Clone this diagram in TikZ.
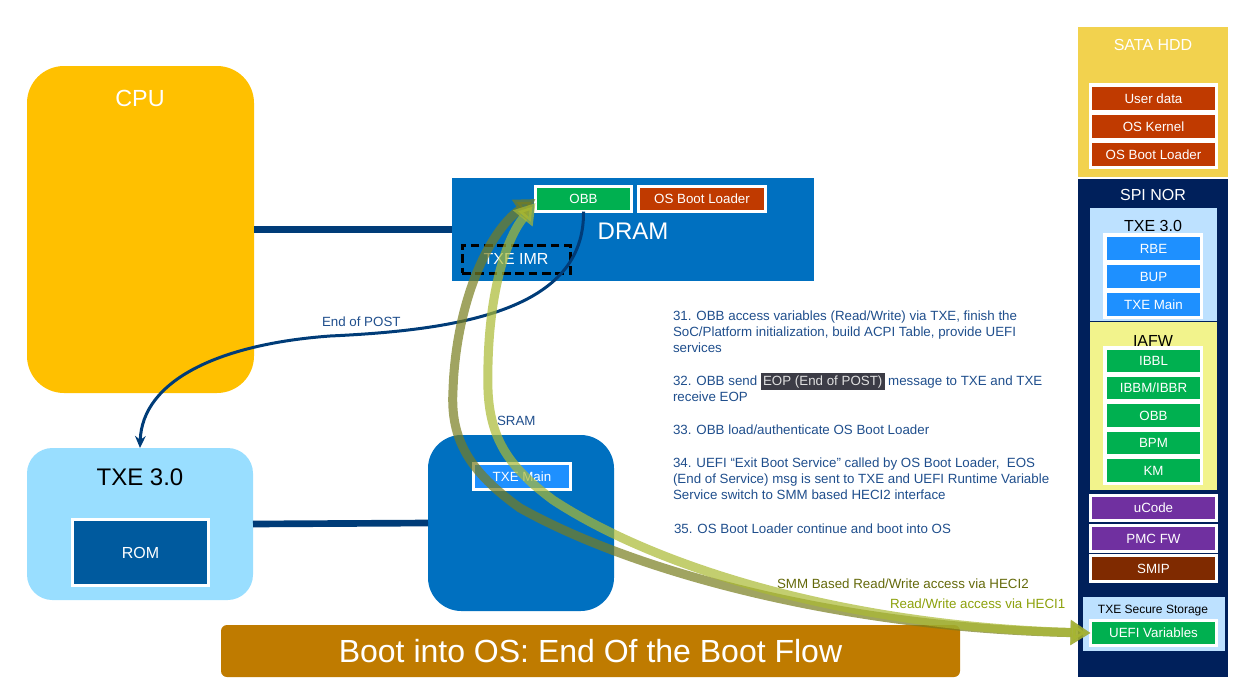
\documentclass[tikz,border=0pt]{standalone}
\usepackage{fontspec}
\setmainfont{Liberation Sans}
\usetikzlibrary{arrows.meta,fit}
\definecolor{cpuY}{HTML}{FFC000}
\definecolor{txeL}{HTML}{99DEFF}
\definecolor{blueM}{HTML}{0070C0}
\definecolor{romB}{HTML}{005A9E}
\definecolor{lineB}{HTML}{003C78}
\definecolor{txtB}{HTML}{1F4E8C}
\definecolor{grn}{HTML}{00B050}
\definecolor{org}{HTML}{C03A00}
\definecolor{brightB}{HTML}{1E90FF}
\definecolor{sata}{HTML}{F2D24E}
\definecolor{navy}{HTML}{00205B}
\definecolor{paleB}{HTML}{BDE1FF}
\definecolor{paleY}{HTML}{F2F38C}
\definecolor{purp}{HTML}{7030A0}
\definecolor{brn}{HTML}{7F2A00}
\definecolor{bootO}{HTML}{BF7B00}
\definecolor{oliveD}{RGB}{120,125,30}
\definecolor{oliveL}{RGB}{170,185,50}
\definecolor{smmT}{RGB}{100,105,10}
\definecolor{heciT}{RGB}{140,160,10}
\definecolor{hl}{HTML}{3C3C46}
\newcommand\fsz[1]{\fontsize{#1}{#1}\selectfont}
\begin{document}
\begin{tikzpicture}[x=0.75pt,y=-0.75pt,
  every node/.style={inner sep=0pt, outer sep=0pt},
  rbox/.style={inner sep=0pt, outer sep=0pt, text=white, font=\fsz{10}},
  wb/.style={draw=white, line width=2.25pt},
  bus/.style={draw=lineB, line width=5pt},
  lbl/.style={text=white},
  steptxt/.style={anchor=base west, text=txtB, font=\fsz{10}},
  garrD/.style={draw=oliveD, line width=6.75pt, opacity=0.7,
    {Triangle[length=15pt,width=18pt]}-{Triangle[length=15pt,width=18pt]}},
  garrL/.style={draw=oliveL, line width=6.75pt, opacity=0.7,
    {Triangle[length=15pt,width=18pt]}-{Triangle[length=15pt,width=18pt]}},
  eopline/.style={draw=lineB, line width=2.25pt, -{Stealth[length=9pt,width=8pt]}}
]
\useasboundingbox (0,0) rectangle (1235,697);

% ---------- left side ----------
\node[fit={(27,66)(254,393)}, fill=cpuY, rounded corners=27.75pt] (cpu) {};
\node[lbl, font=\fsz{17.5}] (cpul) at (140,98) {CPU};

\node[fit={(27,448)(253,600)}, fill=txeL, rounded corners=19pt] (txe) {};
\node[font=\fsz{18}] (txel) at (140,477) {TXE 3.0};
\node[fit={(72.5,519.5)(208.5,585.5)}, fill=romB, wb, label={[rbox,font=\fsz{12}]center:ROM}] (rom) {};

\node[fit={(452,178)(814,281)}, fill=blueM] (dram) {};
\node[lbl, font=\fsz{18}] (draml) at (633,231) {DRAM};
\node[fit={(535.5,186.5)(631.5,211.5)}, fill=grn, wb, label={[rbox]center:OBB}] (obb) {};
\node[fit={(638.5,186.5)(765.5,211.5)}, fill=org, wb, label={[rbox]center:OS Boot Loader}] (osbl) {};
\node[fit={(462,245)(570,273)}, draw=black, line width=2.25pt, dash pattern=on 6.5pt off 3.5pt,
  label={[rbox,font=\fsz{12}]center:TXE IMR}] (imr) {};

\node[fit={(428,435)(614,611)}, fill=blueM, rounded corners=25pt] (sram) {};
\node[anchor=base west, text=txtB, font=\fsz{10}] (sraml) at (497,425) {SRAM};
\node[fit={(473.5,463.5)(570.5,489.5)}, fill=brightB, wb, label={[rbox]center:TXE Main}] (txemain) {};

% buses
\draw[bus] (cpu.east) -- (dram.west);
\draw[bus] (txe.east) -- (sram.west);

% ---------- right column ----------
\node[fit={(1078,27)(1228,177)}, fill=sata] (sata) {};
\node[lbl, font=\fsz{12}] at (1153,45) {SATA HDD};
\node[fit={(1089,83)(1218,169)}, fill=white] (satap) {};
\node[fit={(1092,87)(1215,110)}, fill=org, label={[rbox]center:User data}] (udata) {};
\node[fit={(1092,115)(1215,138)}, fill=org, label={[rbox]center:OS Kernel}] (oskern) {};
\node[fit={(1092,143)(1215,166)}, fill=org, label={[rbox]center:OS Boot Loader}] (osbl2) {};

\node[fit={(1078,179)(1228,677)}, fill=navy] (spi) {};
\node[lbl, font=\fsz{12}] at (1153,195) {SPI NOR};

\node[fit={(1090,208)(1217,321)}, fill=paleB] (txep) {};
\node[font=\fsz{12}] at (1153,226) {TXE 3.0};
\node[fit={(1103,233)(1203,319)}, fill=white] (txew) {};
\node[fit={(1107,237)(1200,260)}, fill=brightB, label={[rbox]center:RBE}] (rbe) {};
\node[fit={(1107,265)(1200,288)}, fill=brightB, label={[rbox]center:BUP}] (bup) {};
\node[fit={(1107,293)(1200,316)}, fill=brightB, label={[rbox]center:TXE Main}] (txem2) {};

\node[fit={(1090,322)(1217,490)}, fill=paleY] (iafw) {};
\node[font=\fsz{12}] at (1153,341) {IAFW};
\node[fit={(1103,346)(1203,485)}, fill=white] (iafww) {};
\node[fit={(1107,350)(1200,372)}, fill=grn, label={[rbox]center:IBBL}] (ibbl) {};
\node[fit={(1107,377)(1200,399)}, fill=grn, label={[rbox]center:IBBM/IBBR}] (ibbm) {};
\node[fit={(1107,404)(1200,427)}, fill=grn, label={[rbox]center:OBB}] (obb2) {};
\node[fit={(1107,432)(1200,454)}, fill=grn, label={[rbox]center:BPM}] (bpm) {};
\node[fit={(1107,459)(1200,482)}, fill=grn, label={[rbox]center:KM}] (km) {};

\node[fit={(1090.5,495.5)(1216.5,520.5)}, fill=purp, wb, label={[rbox]center:uCode}] (ucode) {};
\node[fit={(1090.5,525.5)(1216.5,551.5)}, fill=purp, wb, label={[rbox]center:PMC FW}] (pmc) {};
\node[fit={(1090.5,555.5)(1216.5,581.5)}, fill=brn, wb, label={[rbox]center:SMIP}] (smip) {};

\node[fit={(1083,597)(1225,651)}, fill=paleB] (tss) {};
\node[font=\fsz{9}] at (1153,611) {TXE Secure Storage};
\node[fit={(1090.5,620.5)(1216.5,645.5)}, fill=grn, wb, label={[rbox]center:UEFI Variables}] (uefi) {};

% ---------- bottom banner ----------
\node[fit={(221,625)(960,677)}, fill=bootO, rounded corners=4.5pt,
  label={[rbox,font=\fsz{24}]center:{Boot into OS: End Of the Boot Flow}}] (boot) {};

% ---------- steps text ----------
\node[steptxt] (s1a) at (673,320) {31. OBB access variables (Read/Write) via TXE, finish the};
\node[steptxt] (s1b) at (673,336) {SoC/Platform initialization, build ACPI Table, provide UEFI};
\node[steptxt] (s1c) at (673,352) {services};
\node[steptxt] (s2a) at (673,385) {32. OBB send {\setlength\fboxsep{1.6pt}\colorbox{hl}{\textcolor{white!88!black}{EOP (End of POST)}}} message to TXE and TXE};
\node[steptxt] (s2b) at (673,401) {receive EOP};
\node[steptxt] (s3) at (673,434) {33. OBB load/authenticate OS Boot Loader};
\node[steptxt] (s4a) at (673,467) {34. UEFI “Exit Boot Service” called by OS Boot Loader,\ \ EOS};
\node[steptxt] (s4b) at (673,483) {(End of Service) msg is sent to TXE and UEFI Runtime Variable};
\node[steptxt] (s4c) at (673,499) {Service switch to SMM based HECI2 interface};
\node[steptxt] (s5) at (674,533) {35. OS Boot Loader continue and boot into OS};

% ---------- End of POST ----------
\draw[eopline] (obb.south) .. controls (585,310) and (460,330) .. (330,336)
  .. controls (220,344) and (142,380) .. (txe.north);
\node[anchor=base west, text=txtB, font=\fsz{10}] (eopl) at (322,326) {End of POST};

% ---------- HECI arrows ----------
\draw[garrD] (uefi.west) .. controls (850,628) and (640,575) .. (520,508)
  .. controls (470,472) and (450,440) .. (453,390)
  .. controls (456,300) and (490,230) .. (obb.west);
\draw[garrL] (uefi.west) .. controls (850,626) and (660,570) .. (553,500)
  .. controls (510,468) and (490,440) .. (488,390)
  .. controls (486,300) and (505,240) .. ([yshift=-3pt]obb.west);
\node[anchor=base west, text=smmT, font=\fsz{10}] (smml) at (777,588) {SMM Based Read/Write access via HECI2};
\node[anchor=base west, text=heciT, font=\fsz{10}] (heci1) at (890,608) {Read/Write access via HECI1};
\end{tikzpicture}
\end{document}
